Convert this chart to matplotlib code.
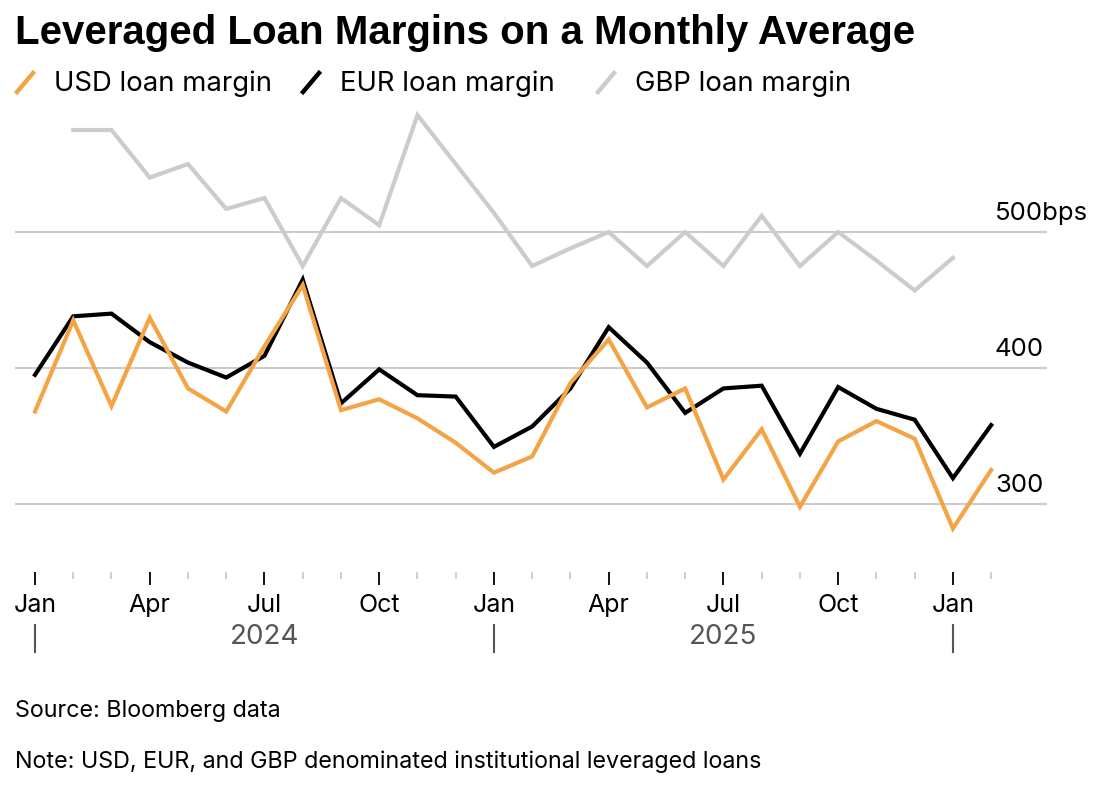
import matplotlib.pyplot as plt
from matplotlib.lines import Line2D

# monthly data, Jan 2024 .. Feb 2026
months = ['Jan', 'Feb', 'Mar', 'Apr', 'May', 'Jun', 'Jul', 'Aug', 'Sep', 'Oct', 'Nov', 'Dec'] * 2 + ['Jan', 'Feb']
usd = [368, 435, 372, 437, 385, 368, 416, 461, 369, 377, 363, 345,
       323, 335, 389, 421, 371, 385, 318, 355, 298, 346, 361, 348,
       282, 325]
eur = [395, 438, 440, 419, 404, 393, 409, 465, 374, 399, 380, 379,
       342, 357, 385, 430, 404, 367, 385, 387, 337, 386, 370, 362,
       319, 358]
# GBP starts Feb 2024 and ends Jan 2026
gbp = [None, 575, 575, 540, 550, 517, 525, 475, 525, 505, 586, 550,
       514, 475, 488, 500, 475, 500, 475, 512, 475, 500, 479, 457,
       481]
years = ['2024', '2025']
grid_vals = [300, 400, 500]
grid_labels = ['300', '400', '500bps']

ORANGE = '#f4a444'
GREY = '#cccccc'

plt.rcParams['font.family'] = ['Inter', 'DejaVu Sans']

fig = plt.figure(figsize=(11, 7.9), dpi=100)
W, H = 1100, 790
ax = fig.add_axes([15 / W, 1 - 572 / H, (1047 - 15) / W, (572 - 105) / H])

x_all = list(range(len(usd)))
gx = [i for i, v in enumerate(gbp) if v is not None]
gy = [v for v in gbp if v is not None]

for v in grid_vals:
    ax.axhline(v, color=GREY, lw=1.5, zorder=1)

ax.plot(gx, gy, color=GREY, lw=3, solid_joinstyle='miter', zorder=2)
ax.plot(x_all, eur, color='black', lw=3, solid_joinstyle='miter', zorder=3)
ax.plot(x_all, usd, color=ORANGE, lw=3, solid_joinstyle='miter', zorder=4)

ax.set_xlim(-0.523, 26.46)
ax.set_ylim(250, 593.4)

for v, lab in zip(grid_vals, grid_labels):
    ax.annotate(lab, xy=((995 - 15) / 1032, v), xycoords=('axes fraction', 'data'),
                xytext=(0, 5), textcoords='offset points', ha='left', va='bottom',
                fontsize=18.5, color='black')

major = [i for i in x_all if months[i] in ('Jan', 'Apr', 'Jul', 'Oct')]
ax.set_xticks(major)
ax.set_xticklabels([months[i] for i in major], fontsize=18)
ax.set_xticks(x_all, minor=True)
ax.tick_params(axis='x', which='major', length=9.5, width=1.3, color='black', pad=6)
ax.tick_params(axis='x', which='minor', length=5, width=1.3, color=GREY)
ax.tick_params(axis='y', left=False, labelleft=False)
for s in ax.spines.values():
    s.set_visible(False)

# year labels and separators
trans = ax.get_xaxis_transform()
for k, yr in enumerate(years):
    ax.text(6 + 12 * k, (572 - 637) / 467, yr, transform=trans, ha='center', va='center',
            fontsize=20, color='#555555')
for k in range(3):
    ax.plot([12 * k, 12 * k], [(572 - 625) / 467, (572 - 652) / 467], transform=trans,
            color='#555555', lw=1.5, clip_on=False)

# title and legend
fig.text(15 / W, 1 - 33 / H, 'Leveraged Loan Margins on a Monthly Average', fontsize=29,
         fontweight='bold', ha='left', va='center', family=['Liberation Sans', 'DejaVu Sans'])
legend = [('USD loan margin', ORANGE, 17), ('EUR loan margin', 'black', 303), ('GBP loan margin', GREY, 598)]
for lab, col, x0 in legend:
    fig.add_artist(Line2D([x0 / W, (x0 + 16) / W], [1 - 92 / H, 1 - 73 / H], color=col, lw=3.2,
                          transform=fig.transFigure))
    fig.text((x0 + 37) / W, 1 - 84 / H, lab, fontsize=19.8, ha='left', va='center')

fig.text(15 / W, 1 - 711 / H, 'Source: Bloomberg data', fontsize=16.8, ha='left', va='center')
fig.text(15 / W, 1 - 762 / H, 'Note: USD, EUR, and GBP denominated institutional leveraged loans',
         fontsize=16.8, ha='left', va='center')

fig.savefig('out.png', dpi=100)
